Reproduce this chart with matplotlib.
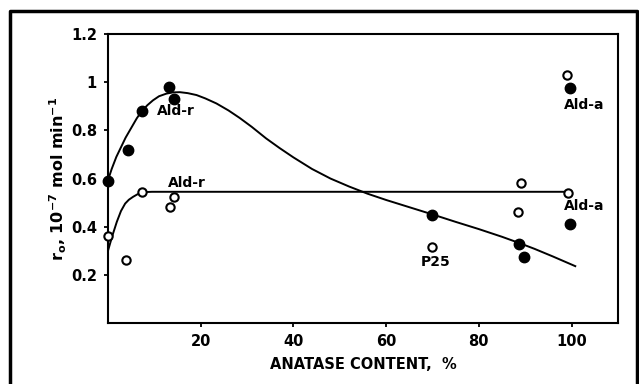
import matplotlib
matplotlib.use("Agg")
import matplotlib.pyplot as plt
from matplotlib.lines import Line2D

# pontos experimentais (cheios)
anatase_cheio = [0, 4.3, 7.3, 13.1, 14.2, 69.9, 88.6, 89.7, 99.6, 99.6]
taxa_cheio = [0.59, 0.72, 0.88, 0.98, 0.93, 0.45, 0.33, 0.275, 0.41, 0.975]

# pontos experimentais (abertos)
anatase_aberto = [0, 3.9, 7.3, 13.3, 14.2, 69.9, 88.4, 89.1, 99.2, 99.0]
taxa_aberto = [0.36, 0.26, 0.545, 0.48, 0.525, 0.315, 0.46, 0.58, 0.54, 1.03]

# curvas desenhadas a mao
curva_cheio_x = [0, 0.8, 1.8, 2.8, 3.8, 5, 6.2, 7.2, 8.5, 9.7, 11, 12.6,
                 14, 15.5, 17.2, 19.1, 21, 23.4, 26, 28.4, 31, 34.1, 37,
                 40, 44, 48, 52, 56, 60, 65, 70, 75, 80, 85, 88.6, 92, 96,
                 100.8]
curva_cheio_y = [0.593, 0.64, 0.69, 0.73, 0.77, 0.81, 0.85, 0.878, 0.905,
                 0.925, 0.942, 0.953, 0.958, 0.959, 0.955, 0.947, 0.933,
                 0.912, 0.883, 0.852, 0.815, 0.767, 0.727, 0.688, 0.64,
                 0.60, 0.567, 0.537, 0.511, 0.481, 0.451, 0.42, 0.39, 0.358,
                 0.333, 0.308, 0.276, 0.236]
curva_aberto_x = [0, 0.9, 1.9, 2.8, 3.7, 4.5, 5.4, 6.3, 7.2, 8.2, 9.5, 100]
curva_aberto_y = [0.30, 0.36, 0.42, 0.465, 0.496, 0.512, 0.524, 0.534,
                  0.541, 0.544, 0.545, 0.545]

rotulos = ["Ald-r", "Ald-r", "Ald-a", "Ald-a", "P25"]
rotulos_x = [10.5, 12.9, 98.3, 98.3, 67.5]
rotulos_y = [0.88, 0.58, 0.905, 0.485, 0.255]

x_ticks = [20, 40, 60, 80, 100]
y_ticks = [0.2, 0.4, 0.6, 0.8, 1, 1.2]
y_labels = ["0.2", "0.4", "0.6", "0.8", "1", "1.2"]

plt.rcParams['font.family'] = ['DejaVu Sans']
plt.rcParams['font.weight'] = 'bold'

figura = plt.figure(figsize=(6.39, 3.84), dpi=100)
subplot = figura.add_axes([0.169, 0.159, 0.798, 0.752])

subplot.plot(curva_cheio_x, curva_cheio_y, color='black', lw=1.4)
subplot.plot(curva_aberto_x, curva_aberto_y, color='black', lw=1.4)
subplot.plot(anatase_cheio, taxa_cheio, 'o', color='black', ms=7.5,
             clip_on=False, zorder=3)
subplot.plot(anatase_aberto, taxa_aberto, 'o', mfc='white', mec='black',
             mew=1.5, ms=6, clip_on=False, zorder=3)

for texto, tx, ty in zip(rotulos, rotulos_x, rotulos_y):
    subplot.text(tx, ty, texto, fontsize=10, fontweight='bold',
                 va='center', ha='left')

subplot.set_xlim(0, 110)
subplot.set_ylim(0, 1.2)
subplot.set_xticks(x_ticks)
subplot.set_yticks(y_ticks)
subplot.set_yticklabels(y_labels)
subplot.tick_params(direction='out', length=3, width=1.3, labelsize=10.5,
                    pad=5)
for lado in subplot.spines.values():
    lado.set_linewidth(1.5)

subplot.set_xlabel("ANATASE CONTENT,  %", fontsize=10.5, fontweight='bold',
                   labelpad=6)
subplot.set_ylabel(r"r$_{\rm o}$, 10$^{-7}$ mol min$^{-1}$", fontsize=11.5,
                   fontweight='bold', labelpad=1)

# moldura externa (sem a borda de baixo)
moldura = Line2D([10 / 639, 10 / 639, 637 / 639, 637 / 639],
                 [0, 1 - 11 / 384, 1 - 11 / 384, 0],
                 transform=figura.transFigure, color='black', lw=2.5)
figura.add_artist(moldura)

figura.savefig("out.png", dpi=100)
